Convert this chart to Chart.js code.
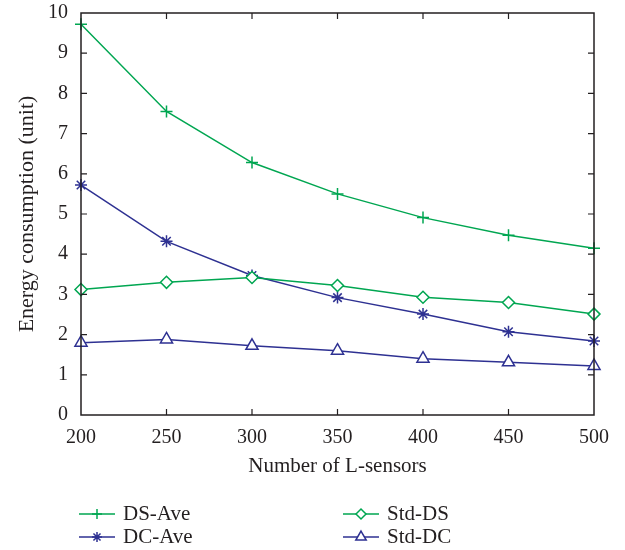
<!DOCTYPE html>
<html>
<head>
<meta charset="utf-8">
<script src="https://cdn.jsdelivr.net/npm/chart.js"></script>
<style>
  body { margin: 0; background: #fff; }
  #wrap { width: 625px; height: 550px; }
</style>
</head>
<body>
<div id="wrap"><canvas id="myChart" width="625" height="550"></canvas></div>
<script>
  const sensors = [200, 250, 300, 350, 400, 450, 500];
  const dsAve = [9.72, 7.55, 6.28, 5.5, 4.91, 4.47, 4.15];
  const stdDs = [3.12, 3.3, 3.42, 3.22, 2.93, 2.8, 2.51];
  const dcAve = [5.72, 4.32, 3.47, 2.92, 2.51, 2.07, 1.84];
  const stdDc = [1.8, 1.88, 1.72, 1.6, 1.4, 1.31, 1.22];
  const yTicks = [0, 1, 2, 3, 4, 5, 6, 7, 8, 9, 10];

  const green = 'rgb(0, 166, 81)';
  const blue = 'rgb(46, 49, 146)';
  const serif = '"Liberation Serif", "Times New Roman", serif';

  function pts(arr) {
    return sensors.map((s, i) => ({ x: s, y: arr[i] }));
  }

  // order matters for the legend: row by row
  const datasets = [
    { label: 'DS-Ave', data: pts(dsAve), borderColor: green, backgroundColor: green, pointStyle: 'cross', pointRadius: 6, col: 0, row: 0 },
    { label: 'Std-DS', data: pts(stdDs), borderColor: green, backgroundColor: '#fff', pointStyle: 'rectRot', pointRadius: 6, col: 1, row: 0 },
    { label: 'DC-Ave', data: pts(dcAve), borderColor: blue, backgroundColor: blue, pointStyle: 'star', pointRadius: 6, col: 0, row: 1 },
    { label: 'Std-DC', data: pts(stdDc), borderColor: blue, backgroundColor: '#fff', pointStyle: 'triangle', pointRadius: 7, col: 1, row: 1 }
  ];
  datasets.forEach(d => {
    d.borderWidth = 1.5;
    d.pointBorderWidth = 1.5;
    d.pointHoverRadius = d.pointRadius;
    d.tension = 0;
    d.clip = false;
    d.pointBackgroundColor = d.backgroundColor;
  });

  // box around plot + inward ticks
  const frame = {
    id: 'frame',
    afterDatasetsDraw(chart) {
      const { ctx, chartArea: a } = chart;
      const xs = chart.scales.x, ys = chart.scales.y;
      ctx.save();
      ctx.strokeStyle = '#231f20';
      ctx.lineWidth = 1.5;
      ctx.strokeRect(a.left, a.top, a.right - a.left, a.bottom - a.top);
      ctx.lineWidth = 1.2;
      ctx.beginPath();
      sensors.slice(1, -1).forEach(v => {
        const px = xs.getPixelForValue(v);
        ctx.moveTo(px, a.bottom); ctx.lineTo(px, a.bottom - 6);
        ctx.moveTo(px, a.top); ctx.lineTo(px, a.top + 6);
      });
      yTicks.slice(1, -1).forEach(v => {
        const py = ys.getPixelForValue(v);
        ctx.moveTo(a.left, py); ctx.lineTo(a.left + 6, py);
        ctx.moveTo(a.right, py); ctx.lineTo(a.right - 6, py);
      });
      ctx.stroke();
      ctx.restore();
    }
  };

  // two column legend under the axis title
  const legend2 = {
    id: 'legend2',
    afterDraw(chart) {
      const { ctx } = chart;
      const colX = [79, 343];
      const rowY = [514, 537];
      ctx.save();
      chart.data.datasets.forEach(d => {
        const x = colX[d.col], y = rowY[d.row];
        ctx.strokeStyle = d.borderColor;
        ctx.lineWidth = 1.5;
        ctx.beginPath();
        ctx.moveTo(x, y); ctx.lineTo(x + 36, y);
        ctx.stroke();
        ctx.fillStyle = d.backgroundColor;
        Chart.helpers.drawPoint(ctx, {
          pointStyle: d.pointStyle,
          radius: d.pointRadius - 1,
          borderWidth: 1.5,
          rotation: 0
        }, x + 18, y);
        ctx.fillStyle = '#231f20';
        ctx.font = '21px ' + serif;
        ctx.textBaseline = 'middle';
        ctx.textAlign = 'left';
        ctx.fillText(d.label, x + 44, y);
      });
      ctx.restore();
    }
  };

  const config = {
    type: 'line',
    data: { datasets: datasets },
    options: {
      responsive: false,
      animation: false,
      layout: { padding: { top: 13, right: 31, bottom: 65, left: 0 } },
      plugins: { legend: { display: false }, tooltip: { enabled: false } },
      scales: {
        x: {
          type: 'linear',
          min: 200,
          max: 500,
          afterBuildTicks(scale) { scale.ticks = sensors.map(v => ({ value: v })); },
          afterFit(scale) { scale.height = 70; },
          grid: { display: false, drawTicks: false },
          border: { display: false },
          ticks: { color: '#231f20', font: { family: serif, size: 20 }, padding: 11, maxRotation: 0 },
          title: { display: true, text: 'Number of L-sensors', color: '#231f20', font: { family: serif, size: 21 }, padding: { top: 0, bottom: 6 } }
        },
        y: {
          min: 0,
          max: 10,
          afterBuildTicks(scale) { scale.ticks = yTicks.map(v => ({ value: v })); },
          afterFit(scale) { scale.width = 81; scale.paddingTop = 0; scale.paddingBottom = 0; },
          grid: { display: false, drawTicks: false },
          border: { display: false },
          ticks: { color: '#231f20', font: { family: serif, size: 20 }, padding: 13 },
          title: { display: true, text: 'Energy consumption (unit)', color: '#231f20', font: { family: serif, size: 22 }, padding: { top: 14, bottom: 0 } }
        }
      }
    },
    plugins: [frame, legend2]
  };

  const myChart = new Chart(document.getElementById('myChart'), config);
</script>
</body>
</html>
